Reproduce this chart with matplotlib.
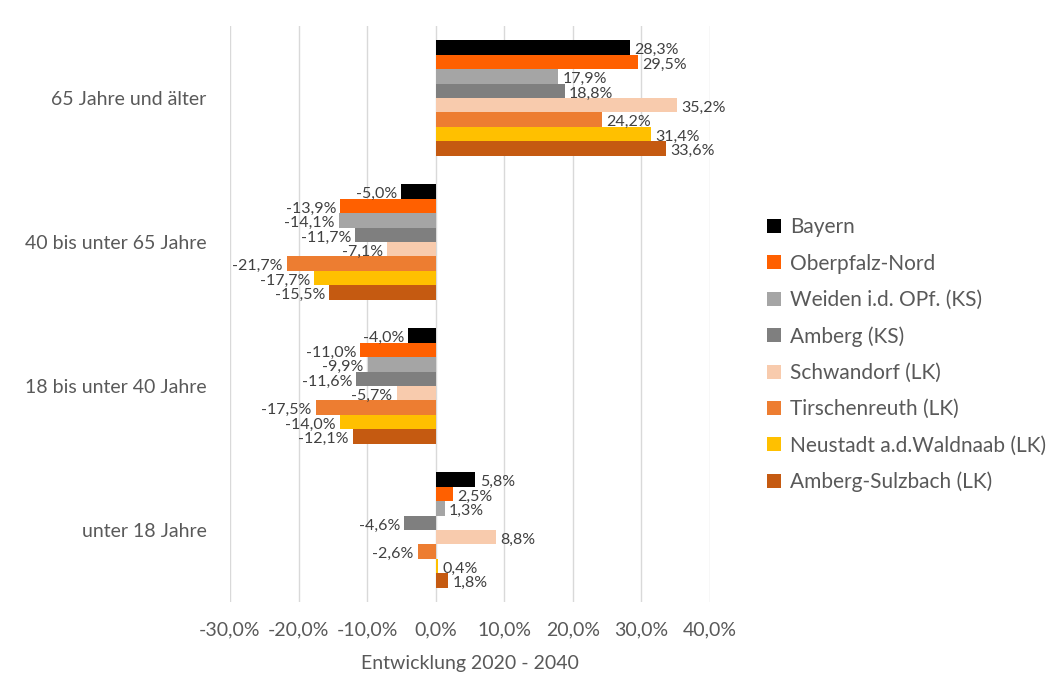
import matplotlib.pyplot as plt
import numpy as np
from matplotlib.ticker import FuncFormatter
from matplotlib.patches import Patch

plt.rcParams['font.family'] = ['Lato', 'DejaVu Sans']

# age groups, top to bottom
categories = ['65 Jahre und älter', '40 bis unter 65 Jahre', '18 bis unter 40 Jahre', 'unter 18 Jahre']

regions = ['Bayern', 'Oberpfalz-Nord', 'Weiden i.d. OPf. (KS)', 'Amberg (KS)',
           'Schwandorf (LK)', 'Tirschenreuth (LK)', 'Neustadt a.d.Waldnaab (LK)',
           'Amberg-Sulzbach (LK)']

# change 2020-2040 in percent, one list per region (same order as categories)
bayern = [28.3, -5.0, -4.0, 5.8]
oberpfalz_nord = [29.5, -13.9, -11.0, 2.5]
weiden = [17.9, -14.1, -9.9, 1.3]
amberg_ks = [18.8, -11.7, -11.6, -4.6]
schwandorf = [35.2, -7.1, -5.7, 8.8]
tirschenreuth = [24.2, -21.7, -17.5, -2.6]
neustadt = [31.4, -17.7, -14.0, 0.4]
amberg_sulzbach = [33.6, -15.5, -12.1, 1.8]

series = [bayern, oberpfalz_nord, weiden, amberg_ks, schwandorf,
          tirschenreuth, neustadt, amberg_sulzbach]
colors = ['#000000', '#FF6000', '#A5A5A5', '#7F7F7F', '#F8CBAD',
          '#ED7D31', '#FFC000', '#C55A11']

def pct(v, decimals=1):
    return f"{v:.{decimals}f}%".replace('.', ',')

fig = plt.figure(figsize=(10.63, 6.86), dpi=100)
ax = fig.add_axes([230 / 1063, 1 - 602 / 686, 480 / 1063, 576 / 686])

y = np.arange(len(categories))
bar_h = 0.1
for j, (vals, col) in enumerate(zip(series, colors)):
    bars = ax.barh(y + (j - 3.5) * bar_h, vals, height=bar_h, color=col, zorder=2)
    anns = ax.bar_label(bars, labels=[pct(v) for v in vals], padding=3,
                        fontsize=11.5, color='#404040')
    # nudge the labels slightly below the bar centre
    for a in anns:
        dx, _ = a.xyann
        a.xyann = (dx, -2)

ax.set_xlim(-30, 40)
ax.set_ylim(len(categories) - 0.5, -0.5)
ax.set_xticks(np.arange(-30, 41, 10))
ax.xaxis.set_major_formatter(FuncFormatter(lambda v, _: pct(v)))
ax.set_yticks(y)
ax.set_yticklabels(categories, fontsize=14.5)
ax.tick_params(axis='both', length=0, labelsize=14, colors='#595959')
ax.tick_params(axis='y', pad=17)
ax.tick_params(axis='x', pad=14)
ax.grid(axis='x', color='#D9D9D9', linewidth=1, zorder=0)
for s in ax.spines.values():
    s.set_visible(False)
ax.set_xlabel('Entwicklung 2020 - 2040', fontsize=14, color='#595959', labelpad=12)

handles = [Patch(facecolor=c, label=r) for r, c in zip(regions, colors)]
fig.legend(handles=handles, loc='upper left', bbox_to_anchor=(757 / 1063, 1 - 207 / 686),
           frameon=False, fontsize=15, labelcolor='#595959', handlelength=0.65,
           handleheight=0.65, handletextpad=0.45, labelspacing=0.78, borderpad=0)

fig.savefig('out.png', dpi=100)
